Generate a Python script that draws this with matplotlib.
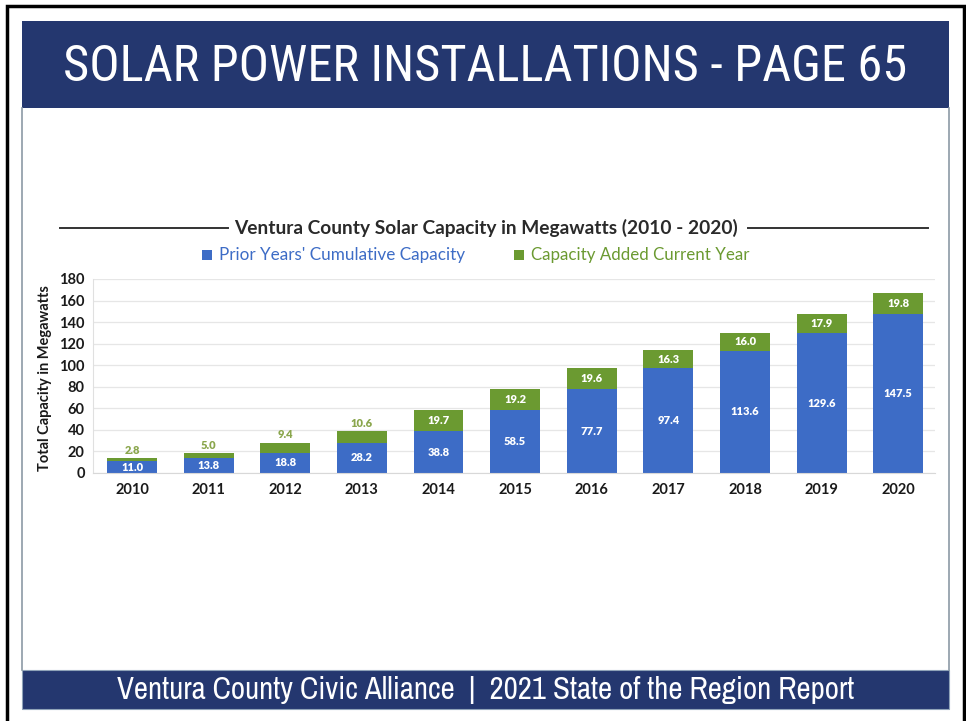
import matplotlib.pyplot as plt
import numpy as np
from matplotlib import font_manager
from matplotlib.patches import Rectangle
from matplotlib.lines import Line2D

W, H = 966, 721

years = ["2010", "2011", "2012", "2013", "2014", "2015", "2016", "2017", "2018", "2019", "2020"]
prior = [11.0, 13.8, 18.8, 28.2, 38.8, 58.5, 77.7, 97.4, 113.6, 129.6, 147.5]
added = [2.8, 5.0, 9.4, 10.6, 19.7, 19.2, 19.6, 16.3, 16.0, 17.9, 19.8]
yticks = [0, 20, 40, 60, 80, 100, 120, 140, 160, 180]

NAVY = "#24376f"
BLUE = "#3d6cc6"
GREEN = "#6b9a31"
LIGHT_GREEN = "#8aa64c"

installed = {f.name for f in font_manager.fontManager.ttflist}


def pick(cands):
    for c in cands:
        if c in installed:
            return c
    return "DejaVu Sans"


NARROW = pick(["Roboto Condensed", "Archivo Narrow", "PT Sans Narrow", "Fira Sans Condensed",
               "Open Sans Condensed", "Liberation Sans Narrow", "Lato"])
FOOT = pick(["Archivo Narrow", "PT Sans Narrow", "Roboto Condensed", "Liberation Sans Narrow",
             "Lato"])


def fx(x):
    return x / W


def fy(y):
    return 1 - y / H


fig = plt.figure(figsize=(W / 100, H / 100), dpi=100)
renderer = fig.canvas.get_renderer()


def fit_width(t, target):
    # shrink/grow the font so the text spans the same width as in the page
    bb = t.get_window_extent(renderer)
    t.set_fontsize(t.get_fontsize() * target / bb.width)


# page frame
fig.patches.append(Rectangle((fx(7), fy(730)), fx(964) - fx(7), fy(6) - fy(730),
                             transform=fig.transFigure, fill=False, ec="black", lw=2.5))
# header band
fig.patches.append(Rectangle((fx(22), fy(108)), fx(949) - fx(22), fy(21) - fy(108),
                             transform=fig.transFigure, fc=NAVY, ec="none"))
# footer band
fig.patches.append(Rectangle((fx(22), fy(709)), fx(949) - fx(22), fy(670) - fy(709),
                             transform=fig.transFigure, fc=NAVY, ec="#8fa3b8", lw=0.8))
# panel side lines
for xx in (22, 949):
    fig.lines.append(Line2D([fx(xx), fx(xx)], [fy(108), fy(670)],
                            transform=fig.transFigure, color="#8c9aa6", lw=1.2))

t = fig.text(fx(485), fy(67), "SOLAR POWER INSTALLATIONS - PAGE 65", color="white",
             ha="center", va="center", fontsize=36, family=NARROW)
fit_width(t, 846)
t = fig.text(fx(486), fy(690), "Ventura County Civic Alliance  |  2021 State of the Region Report",
             color="white", ha="center", va="center", fontsize=16, family=FOOT)
fit_width(t, 740)

# chart title with rules
fig.text(fx(486), fy(228), "Ventura County Solar Capacity in Megawatts (2010 - 2020)",
         ha="center", va="center", fontsize=13.8, family="Lato", fontweight="bold", color="#2a2a2a")
fig.lines.append(Line2D([fx(60), fx(228)], [fy(228), fy(228)], transform=fig.transFigure,
                        color="#333333", lw=1.4))
fig.lines.append(Line2D([fx(748), fx(928)], [fy(228), fy(228)], transform=fig.transFigure,
                        color="#333333", lw=1.4))

# legend
fig.patches.append(Rectangle((fx(202), fy(260)), 10 / W, 10 / H, transform=fig.transFigure,
                             fc=BLUE, ec="none"))
fig.text(fx(219), fy(255), "Prior Years' Cumulative Capacity", color=BLUE, ha="left",
         va="center", fontsize=12.3, family="Lato")
fig.patches.append(Rectangle((fx(514), fy(260)), 10 / W, 10 / H, transform=fig.transFigure,
                             fc=GREEN, ec="none"))
fig.text(fx(531), fy(255), "Capacity Added Current Year", color=GREEN, ha="left",
         va="center", fontsize=12.2, family="Lato")

ax = fig.add_axes([fx(93), fy(473), fx(935) - fx(93), fy(279) - fy(473)])
x = np.arange(len(years))
prior_a = np.array(prior)
added_a = np.array(added)
ax.bar(x, prior_a, width=0.65, color=BLUE, zorder=2)
ax.bar(x, added_a, width=0.65, bottom=prior_a, color=GREEN, zorder=2)

for i in range(len(years)):
    ax.text(x[i], prior_a[i] / 2, f"{prior[i]:.1f}", ha="center", va="center", color="white",
            fontsize=8, fontweight="heavy", family="Lato", zorder=3)
    if added[i] < 12:
        ax.text(x[i], prior_a[i] + added_a[i] + 2, f"{added[i]:.1f}", ha="center", va="bottom",
                color=LIGHT_GREEN, fontsize=8, fontweight="heavy", family="Lato", zorder=3)
    else:
        ax.text(x[i], prior_a[i] + added_a[i] / 2, f"{added[i]:.1f}", ha="center", va="center",
                color="white", fontsize=8, fontweight="heavy", family="Lato", zorder=3)

ax.set_xlim(-0.51, 10.48)
ax.set_ylim(0, 180)
ax.set_yticks(yticks)
ax.set_xticks(x)
ax.set_xticklabels(years)
ax.tick_params(length=0, labelsize=10.5, colors="#1a1a1a")
ax.tick_params(axis="x", pad=7)
ax.tick_params(axis="y", pad=6)
for lab in ax.get_xticklabels() + ax.get_yticklabels():
    lab.set_family("Lato")
    lab.set_fontweight("bold")
ax.grid(axis="y", color="#e6e6e6", lw=0.9, zorder=0)
for s in ["top", "right"]:
    ax.spines[s].set_visible(False)
ax.spines["left"].set_color("#e0e0e0")
ax.spines["bottom"].set_color("#d8d8d8")

fig.text(fx(45), fy(378), "Total Capacity in Megawatts", rotation=90, ha="center", va="center",
         fontsize=10.5, fontweight="bold", family="Lato", color="#1a1a1a")

fig.savefig("out.png", dpi=100)
